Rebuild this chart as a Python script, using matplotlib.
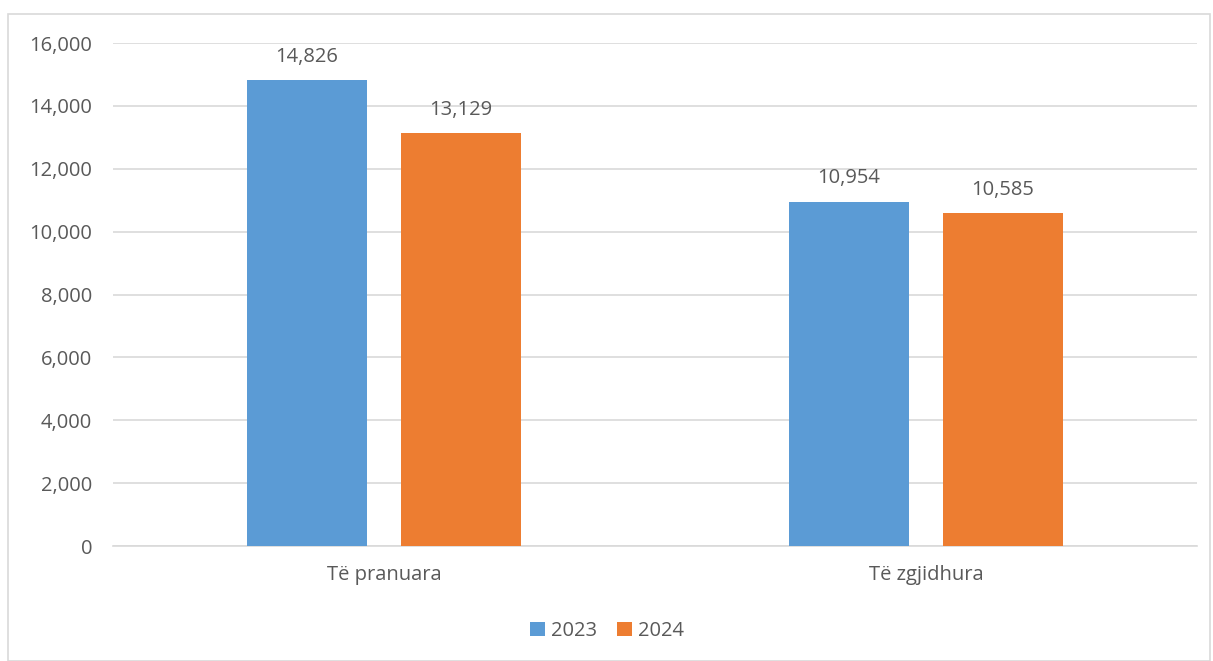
import matplotlib
matplotlib.use("Agg")
import matplotlib.pyplot as plt
from matplotlib.patches import Rectangle
from matplotlib.ticker import FuncFormatter
import numpy as np

categories = ["Të pranuara", "Të zgjidhura"]
series_names = ["2023", "2024"]
values_2023 = [14826, 10954]
values_2024 = [13129, 10585]
yticks = [0, 2000, 4000, 6000, 8000, 10000, 12000, 14000, 16000]

colors = ["#5B9BD5", "#ED7D31"]
text_color = "#595959"
plt.rcParams['font.family'] = ['Open Sans', 'DejaVu Sans']
fs = 14.5

W, H = 1213, 661
fig = plt.figure(figsize=(W / 100, H / 100), dpi=100)
fig.patches.append(Rectangle((8 / W, 0), (1210 - 8) / W, 1 - 14 / H, transform=fig.transFigure,
                             fill=False, edgecolor="#D9D9D9", linewidth=1.2))

ax = fig.add_axes([113 / W, 1 - 546 / H, (1197 - 113) / W, (546 - 43) / H])
x = np.arange(len(categories))
bw = 0.223
off = 0.142
for vals, c, name, sgn in [(values_2023, colors[0], series_names[0], -1),
                           (values_2024, colors[1], series_names[1], 1)]:
    bars = ax.bar(x + sgn * off, vals, width=bw, color=c, label=name, zorder=3)
    for b, v in zip(bars, vals):
        ax.text(b.get_x() + b.get_width() / 2, v + 420, f"{v:,}", ha="center", va="bottom",
                fontsize=fs, color=text_color)

ax.set_xlim(-0.5, 1.5)
ax.set_ylim(0, 16000)
ax.set_yticks(yticks)
ax.yaxis.set_major_formatter(FuncFormatter(lambda v, p: f"{int(v):,}"))
ax.set_xticks(x)
ax.set_xticklabels(categories)
ax.grid(axis="y", color="#D9D9D9", linewidth=1.2, zorder=0)
for s in ["top", "right", "left"]:
    ax.spines[s].set_visible(False)
ax.spines["bottom"].set_color("#D9D9D9")
ax.spines["bottom"].set_linewidth(1.2)
ax.tick_params(axis="both", length=0, labelsize=fs, colors=text_color)
ax.tick_params(axis="y", pad=15)
ax.tick_params(axis="x", pad=14)

leg = fig.legend(loc="center", bbox_to_anchor=(607 / W, 1 - 631 / H), ncol=2, frameon=False,
                 fontsize=fs, handlelength=0.75, handleheight=0.75, handletextpad=0.3,
                 columnspacing=1.0)
for t in leg.get_texts():
    t.set_color(text_color)

fig.savefig("out.png", dpi=100)
